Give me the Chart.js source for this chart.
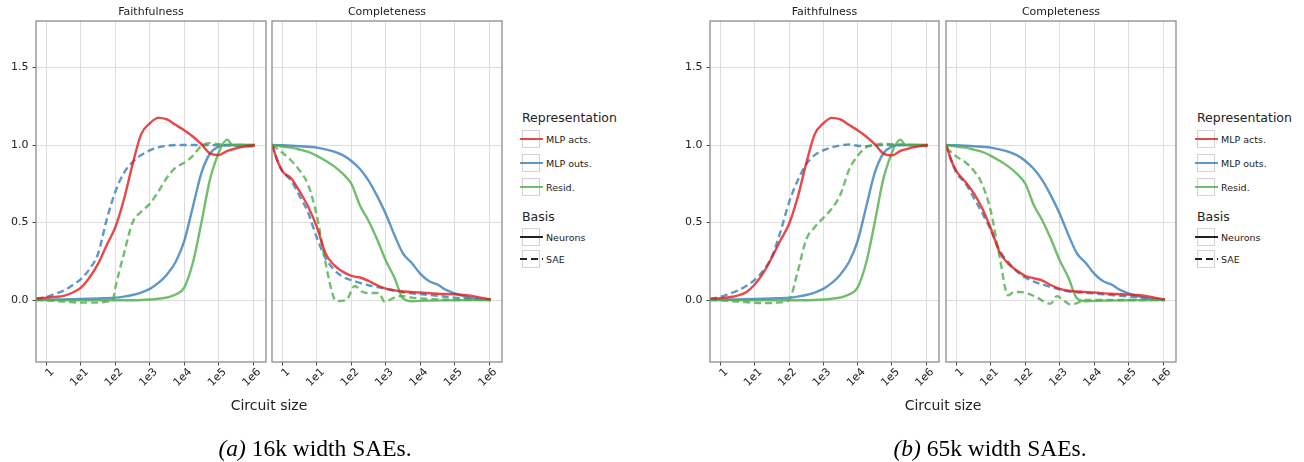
<!DOCTYPE html>
<html><head><meta charset="utf-8">
<script src="https://cdn.jsdelivr.net/npm/chart.js@4.4.1/dist/chart.umd.min.js"></script>
<style>
html,body{margin:0;padding:0;background:#fff;}
body{width:1304px;height:462px;position:relative;overflow:hidden;font-family:"DejaVu Sans",sans-serif;color:#222;}
canvas{position:absolute;top:0;}
.ptitle{position:absolute;top:5px;font-size:11px;line-height:14px;transform:translateX(-50%);white-space:nowrap;}
.xtitle{position:absolute;top:396px;font-size:14px;line-height:18px;transform:translateX(-50%);white-space:nowrap;}
.caption{position:absolute;top:434px;font-family:"Liberation Serif",serif;font-size:23.5px;line-height:28px;transform:translateX(-50%);white-space:nowrap;color:#000;}
.lg{position:absolute;top:0;}
.lg-title{position:absolute;left:0;font-size:12.5px;line-height:16px;white-space:nowrap;}
.lg-key{position:absolute;left:0;width:16px;height:16px;border:1.5px solid #d2d2d2;background:#fff;}
.lg-line{position:absolute;left:-3px;width:23px;top:7px;height:2.4px;}
.lg-text{position:absolute;left:24px;font-size:9.5px;line-height:19px;white-space:nowrap;}
</style>
</head><body>
<canvas id="aFaith" width="270" height="400" style="left:0px"></canvas>
<canvas id="aComp" width="236" height="400" style="left:270px"></canvas>
<canvas id="bFaith" width="270" height="400" style="left:674px"></canvas>
<canvas id="bComp" width="236" height="400" style="left:944px"></canvas>

<div class="ptitle" style="left:151px">Faithfulness</div>
<div class="ptitle" style="left:387px">Completeness</div>
<div class="ptitle" style="left:824.5px">Faithfulness</div>
<div class="ptitle" style="left:1061px">Completeness</div>
<div class="xtitle" style="left:269px">Circuit size</div>
<div class="xtitle" style="left:943px">Circuit size</div>
<div class="caption" style="left:315px"><i>(a)</i> 16k width SAEs.</div>
<div class="caption" style="left:990px"><i>(b)</i> 65k width SAEs.</div>
<div class="lg" id="lgA" style="left:522px"></div>
<div class="lg" id="lgB" style="left:1197px"></div>

<script>
// ---- axis ticks (x values are log10 of circuit size) ----
const xTickExps = [0, 1, 2, 3, 4, 5, 6];
const xTickLabels = ['1', '1e1', '1e2', '1e3', '1e4', '1e5', '1e6'];
const yTicks = [0, 0.5, 1.0, 1.5];

// ---- series: [log10(circuit size), value] ----
// (a) 16k width SAEs — Faithfulness
const aFaithMlpActsNeurons = [[-0.3,0.01],[0,0.015],[0.25,0.02],[0.5,0.027],[0.75,0.047],[1,0.08],[1.25,0.145],[1.5,0.235],[1.75,0.355],[2,0.47],[2.25,0.65],[2.5,0.875],[2.75,1.07],[3,1.14],[3.25,1.175],[3.5,1.165],[3.75,1.13],[4,1.095],[4.25,1.055],[4.5,1.005],[4.75,0.945],[5,0.935],[5.25,0.962],[5.5,0.978],[5.75,0.99],[6.05,1.0]];
const aFaithMlpOutsSae = [[-0.3,0.005],[0,0.02],[0.25,0.04],[0.5,0.06],[0.75,0.095],[1,0.135],[1.25,0.2],[1.5,0.3],[1.75,0.52],[2,0.7],[2.25,0.82],[2.5,0.89],[2.75,0.935],[3,0.965],[3.25,0.985],[3.5,0.995],[3.75,1.0],[4.5,1.0],[5.5,0.995],[6.05,0.99]];
const faithMlpOutsNeurons = [[-0.3,0],[0,0.002],[0.5,0.004],[1,0.006],[1.5,0.01],[2,0.015],[2.25,0.022],[2.5,0.032],[2.75,0.048],[3,0.072],[3.25,0.11],[3.5,0.165],[3.75,0.245],[4,0.38],[4.25,0.6],[4.5,0.82],[4.75,0.945],[5,0.99],[5.25,1.0],[5.75,1.0],[6.05,0.995]];
const faithResidNeurons = [[-0.3,0],[1,-0.002],[2,-0.002],[2.75,0],[3,0.003],[3.25,0.008],[3.5,0.016],[3.75,0.035],[4,0.08],[4.25,0.24],[4.5,0.5],[4.75,0.78],[5,0.95],[5.1,1.0],[5.25,1.035],[5.4,1.0],[5.75,1.0],[6.05,1.0]];
const aFaithResidSae = [[-0.3,0],[0,-0.003],[0.5,-0.01],[1,-0.017],[1.5,-0.017],[1.75,-0.01],[1.93,0.005],[2,0.08],[2.25,0.3],[2.5,0.5],[2.75,0.57],[3,0.62],[3.25,0.7],[3.5,0.79],[3.75,0.855],[4,0.885],[4.25,0.93],[4.5,0.995],[4.75,1.012],[5,1.005],[5.5,1.0],[6.05,1.0]];

// (a) 16k width SAEs — Completeness
const aCompMlpActsNeurons = [[-0.3,1],[-0.15,0.9],[0,0.83],[0.25,0.785],[0.5,0.7],[0.75,0.6],[1,0.47],[1.25,0.3],[1.5,0.225],[1.75,0.183],[2,0.155],[2.25,0.145],[2.5,0.123],[2.75,0.095],[3,0.073],[3.25,0.062],[3.5,0.055],[4,0.048],[4.5,0.04],[5,0.037],[5.25,0.033],[5.5,0.027],[5.75,0.015],[6.05,0.003]];
const aCompMlpOutsSae = [[-0.3,1],[-0.15,0.9],[0,0.83],[0.25,0.77],[0.5,0.67],[0.75,0.56],[1,0.4],[1.25,0.27],[1.5,0.195],[1.75,0.15],[2,0.128],[2.25,0.11],[2.5,0.095],[2.75,0.083],[3,0.072],[3.25,0.062],[3.5,0.05],[4,0.038],[4.5,0.027],[5,0.015],[5.5,0.009],[6.05,0.003]];
const compMlpOutsNeurons = [[-0.3,1],[0,0.998],[0.5,0.992],[1,0.983],[1.25,0.972],[1.5,0.957],[1.75,0.935],[2,0.897],[2.25,0.845],[2.5,0.77],[2.75,0.67],[3,0.555],[3.25,0.42],[3.5,0.3],[3.75,0.24],[4,0.17],[4.25,0.122],[4.5,0.1],[4.75,0.065],[5,0.043],[5.25,0.025],[5.5,0.012],[5.75,0.004],[6.05,0]];
const compResidNeurons = [[-0.3,1],[0,0.99],[0.25,0.983],[0.5,0.97],[0.75,0.955],[1,0.93],[1.25,0.898],[1.5,0.862],[1.75,0.815],[2,0.75],[2.25,0.61],[2.5,0.51],[2.75,0.39],[3,0.255],[3.25,0.145],[3.5,0.01],[3.75,-0.008],[4.25,-0.004],[5,-0.002],[6.05,0]];
const aCompResidSae = [[-0.3,1],[0,0.95],[0.25,0.9],[0.5,0.835],[0.75,0.74],[1,0.54],[1.25,0.24],[1.5,0.01],[1.6,-0.006],[1.85,0],[2.1,0.09],[2.3,0.055],[2.5,0.045],[2.8,0.045],[2.97,-0.012],[3.15,0.005],[3.3,0.02],[3.5,0.025],[3.75,0.015],[4,0.01],[4.5,0.004],[5,0.002],[6.05,0]];

// (b) 65k width SAEs — Faithfulness
const bFaithMlpActsNeurons = [[-0.3,0.008],[0,0.012],[0.25,0.018],[0.5,0.028],[0.75,0.05],[1,0.1],[1.25,0.175],[1.5,0.275],[1.75,0.385],[2,0.49],[2.25,0.66],[2.5,0.88],[2.75,1.07],[3,1.14],[3.25,1.175],[3.5,1.165],[3.75,1.13],[4,1.095],[4.25,1.055],[4.5,1.005],[4.75,0.945],[5,0.933],[5.25,0.962],[5.5,0.978],[5.75,0.99],[6.05,1]];
const bFaithMlpOutsSae = [[-0.3,0.005],[0,0.02],[0.25,0.04],[0.5,0.06],[0.75,0.09],[1,0.13],[1.25,0.19],[1.5,0.28],[1.75,0.44],[2,0.63],[2.25,0.77],[2.5,0.875],[2.75,0.935],[3,0.965],[3.25,0.985],[3.5,0.997],[3.75,1.003],[4,0.995],[4.25,0.993],[4.5,0.998],[4.75,1],[5.5,1],[6.05,0.99]];
const bFaithResidSae = [[-0.3,0],[0,-0.003],[0.5,-0.01],[1,-0.018],[1.25,-0.02],[1.5,-0.02],[1.75,-0.015],[2,0],[2.25,0.18],[2.5,0.39],[2.75,0.47],[3,0.53],[3.25,0.59],[3.5,0.68],[3.75,0.84],[4,0.93],[4.25,0.985],[4.5,1.0],[4.75,1.008],[5,1.005],[5.5,1],[6.05,1]];

// (b) 65k width SAEs — Completeness
const bCompMlpActsNeurons = [[-0.3,1],[-0.15,0.9],[0,0.83],[0.25,0.765],[0.5,0.69],[0.75,0.59],[1,0.46],[1.25,0.31],[1.5,0.235],[1.75,0.19],[2,0.155],[2.25,0.14],[2.5,0.125],[2.75,0.095],[3,0.072],[3.25,0.06],[3.5,0.055],[4,0.048],[4.5,0.04],[5,0.035],[5.25,0.032],[5.5,0.026],[5.75,0.015],[6.05,0.003]];
const bCompMlpOutsSae = [[-0.3,1],[-0.15,0.9],[0,0.82],[0.25,0.755],[0.5,0.66],[0.75,0.56],[1,0.45],[1.25,0.32],[1.5,0.245],[1.75,0.185],[2,0.145],[2.25,0.118],[2.5,0.1],[2.75,0.083],[3,0.068],[3.25,0.056],[3.5,0.05],[3.75,0.046],[4,0.042],[4.25,0.037],[4.5,0.032],[4.75,0.027],[5,0.022],[5.25,0.017],[5.5,0.012],[5.75,0.007],[6.05,0.003]];
const bCompResidSae = [[-0.3,0.98],[0,0.925],[0.25,0.89],[0.5,0.835],[0.75,0.745],[1,0.57],[1.25,0.28],[1.5,0.03],[1.65,0.05],[1.85,0.052],[2.1,0.04],[2.35,0.015],[2.6,-0.017],[2.72,-0.025],[2.92,0.025],[3.1,0],[3.3,-0.028],[3.5,-0.02],[3.7,0],[4,0],[6.05,0]];

// ---- legend entries ----
const representations = ['MLP acts.', 'MLP outs.', 'Resid.'];
const bases = ['Neurons', 'SAE'];

// ---- styles ----
const COLORS = {'MLP acts.': 'rgba(228,26,28,0.8)', 'MLP outs.': 'rgba(55,126,184,0.8)', 'Resid.': 'rgba(77,175,74,0.8)'};
const DASH = {'Neurons': [], 'SAE': [7, 4]};
const FONT = 'DejaVu Sans';

function ds(rep, basis, data) {
  return {label: rep + ' / ' + basis, data: data, borderColor: COLORS[rep], backgroundColor: COLORS[rep],
    borderDash: DASH[basis], borderWidth: 2.4, pointRadius: 0, fill: false,
    cubicInterpolationMode: 'monotone', borderCapStyle: 'butt', borderJoinStyle: 'round'};
}

const frame = {id: 'frame', afterDraw(chart) {
  const {ctx, chartArea: a} = chart;
  ctx.save(); ctx.strokeStyle = '#8c8c8c'; ctx.lineWidth = 1.3;
  ctx.strokeRect(a.left, a.top, a.right - a.left, a.bottom - a.top); ctx.restore();
}};

function panel(id, datasets, showY, padLeft, padRight) {
  new Chart(document.getElementById(id), {
    type: 'line',
    data: {datasets: datasets},
    plugins: [frame],
    options: {
      responsive: false, animation: false, devicePixelRatio: 1,
      layout: {autoPadding: false, padding: {top: 21, left: padLeft, right: padRight, bottom: 0}},
      plugins: {legend: {display: false}, tooltip: {enabled: false}, title: {display: false}},
      scales: {
        x: {type: 'linear', min: -0.305, max: 6.375,
          afterBuildTicks: s => { s.ticks = xTickExps.map(v => ({value: v})); },
          afterFit: s => { s.height = 38; },
          grid: {color: '#dedede', lineWidth: 1, drawTicks: true, tickLength: 3.5, tickColor: '#444', tickWidth: 1},
          border: {display: false},
          ticks: {autoSkip: false, minRotation: 45, maxRotation: 45, padding: 0, labelOffset: 6,
            color: '#222', font: {family: FONT, size: 11}, callback: (v, i) => xTickLabels[i]}
        },
        y: {type: 'linear', min: -0.4, max: 1.8,
          afterBuildTicks: s => { s.ticks = yTicks.map(v => ({value: v})); },
          afterFit: s => { s.width = showY ? 36 : 0; },
          grid: {color: '#dedede', lineWidth: 1, drawTicks: showY, tickLength: 3.5, tickColor: '#444', tickWidth: 1},
          border: {display: false},
          ticks: {display: showY, padding: 4, color: '#222', font: {family: FONT, size: 11},
            callback: v => Number(v).toFixed(1)}
        }
      }
    }
  });
}

panel('aFaith', [
  ds('MLP acts.', 'Neurons', aFaithMlpActsNeurons),
  ds('Resid.', 'Neurons', faithResidNeurons),
  ds('Resid.', 'SAE', aFaithResidSae),
  ds('MLP outs.', 'Neurons', faithMlpOutsNeurons),
  ds('MLP outs.', 'SAE', aFaithMlpOutsSae)
], true, 0, 4);
panel('aComp', [
  ds('MLP acts.', 'Neurons', aCompMlpActsNeurons),
  ds('Resid.', 'Neurons', compResidNeurons),
  ds('Resid.', 'SAE', aCompResidSae),
  ds('MLP outs.', 'Neurons', compMlpOutsNeurons),
  ds('MLP outs.', 'SAE', aCompMlpOutsSae)
], false, 2, 4);
panel('bFaith', [
  ds('MLP acts.', 'Neurons', bFaithMlpActsNeurons),
  ds('Resid.', 'Neurons', faithResidNeurons),
  ds('Resid.', 'SAE', bFaithResidSae),
  ds('MLP outs.', 'Neurons', faithMlpOutsNeurons),
  ds('MLP outs.', 'SAE', bFaithMlpOutsSae)
], true, 0, 5);
panel('bComp', [
  ds('MLP acts.', 'Neurons', bCompMlpActsNeurons),
  ds('Resid.', 'Neurons', compResidNeurons),
  ds('Resid.', 'SAE', bCompResidSae),
  ds('MLP outs.', 'Neurons', compMlpOutsNeurons),
  ds('MLP outs.', 'SAE', bCompMlpOutsSae)
], false, 2, 4);

// ---- HTML legends ----
function buildLegend(el) {
  let html = '<div class="lg-title" style="top:110px">Representation</div>';
  const repTops = [130, 153.5, 177.5];
  representations.forEach((r, i) => {
    html += '<div class="lg-key" style="top:' + repTops[i] + 'px"><div class="lg-line" style="background:' + COLORS[r] + '"></div></div>' +
            '<div class="lg-text" style="top:' + repTops[i] + 'px">' + r + '</div>';
  });
  html += '<div class="lg-title" style="top:208.5px">Basis</div>';
  const basisTops = [227.5, 250];
  bases.forEach((b, i) => {
    const bg = b === 'SAE' ? 'repeating-linear-gradient(to right,#222 0 7px,transparent 7px 11px)' : '#222';
    html += '<div class="lg-key" style="top:' + basisTops[i] + 'px"><div class="lg-line" style="background:' + bg + '"></div></div>' +
            '<div class="lg-text" style="top:' + basisTops[i] + 'px">' + b + '</div>';
  });
  el.innerHTML = html;
}
buildLegend(document.getElementById('lgA'));
buildLegend(document.getElementById('lgB'));
</script>
</body></html>
